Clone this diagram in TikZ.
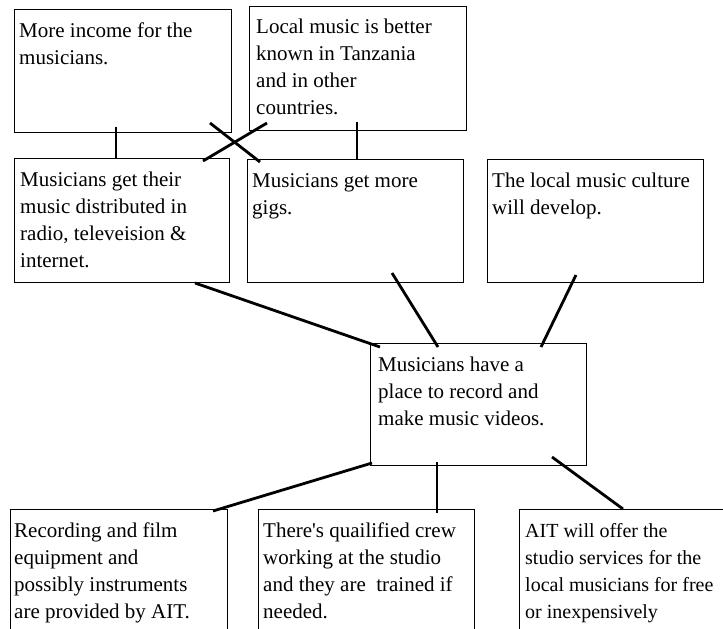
\documentclass[tikz,border=0pt]{standalone}
\usepackage{fontspec}
\setmainfont{Liberation Serif}
\begin{document}
\begin{tikzpicture}[x=1pt,y=-1pt,
  box/.style={draw=black, line width=1.3pt, rectangle, inner sep=0pt, anchor=north west},
  txt/.style={anchor=north west, align=left, inner sep=0pt, font=\fontsize{21}{27}\selectfont},
  link/.style={line width=2.8pt, line cap=butt}]
\useasboundingbox (0,0) rectangle (723,629);
\clip (0,0) rectangle (723,629);
\fill[white] (0,0) rectangle (723,629);
% boxes
\node[box, minimum width=217pt, minimum height=123pt] (A) at (14,9) {};
\node[box, minimum width=217pt, minimum height=124pt] (B) at (249,6) {};
\node[box, minimum width=215pt, minimum height=124pt] (C) at (14,158) {};
\node[box, minimum width=216pt, minimum height=123pt] (D) at (247,159) {};
\node[box, minimum width=216pt, minimum height=123pt] (E) at (487,159) {};
\node[box, minimum width=216pt, minimum height=122pt] (F) at (370,343) {};
\node[box, minimum width=217pt, minimum height=141pt] (G) at (10,509) {};
\node[box, minimum width=216pt, minimum height=141pt] (H) at (258,509) {};
\node[box, minimum width=241pt, minimum height=141pt] (I) at (519,509) {};
% texts
\node[txt] (tA) at (19,23) {More income for the\\musicians.};
\node[txt] (tB) at (256,19) {Local music is better\\known in Tanzania\\and in other\\countries.};
\node[txt] (tC) at (20,172) {Musicians get their\\music distributed in\\radio, televeision \&\\internet.};
\node[txt] (tD) at (252,173) {Musicians get more\\gigs.};
\node[txt] (tE) at (492,173) {The local music culture\\will develop.};
\node[txt] (tF) at (378,357) {Musicians have a\\place to record and\\make music videos.};
\node[txt] (tG) at (14,523) {Recording and film\\equipment and\\possibly instruments\\are provided by AIT.};
\node[txt] (tH) at (263,523) {There\textquotesingle s quailified crew\\working at the studio\\and they are\ \ trained if\\needed.};
\node[txt, font=\fontsize{20}{27}\selectfont] (tI) at (525,523) {AIT will offer the\\studio services for the\\local musicians for free\\or inexpensively};
% connector end points
\coordinate (a1) at (116,127); \coordinate (c1) at (116,159);
\coordinate (b1) at (357,122); \coordinate (d1) at (357,160);
\coordinate (a2) at (210,123); \coordinate (d2) at (260,162);
\coordinate (b2) at (267,123); \coordinate (c2) at (203,161);
\coordinate (c3) at (195,283); \coordinate (f1) at (380,347);
\coordinate (d3) at (392,273); \coordinate (f2) at (438,347);
\coordinate (e1) at (576,275); \coordinate (f3) at (541,347);
\coordinate (f4) at (372,463); \coordinate (g1) at (213,511);
\coordinate (f5) at (437,462); \coordinate (h1) at (437,513);
\coordinate (f6) at (552,457); \coordinate (i1) at (623,509);
% connectors
\draw[link] (a1) -- (c1);
\draw[link] (b1) -- (d1);
\draw[link] (a2) -- (d2);
\draw[link] (b2) -- (c2);
\draw[link] (c3) -- (f1);
\draw[link] (d3) -- (f2);
\draw[link] (e1) -- (f3);
\draw[link] (f4) -- (g1);
\draw[link] (f5) -- (h1);
\draw[link] (f6) -- (i1);
\end{tikzpicture}
\end{document}
